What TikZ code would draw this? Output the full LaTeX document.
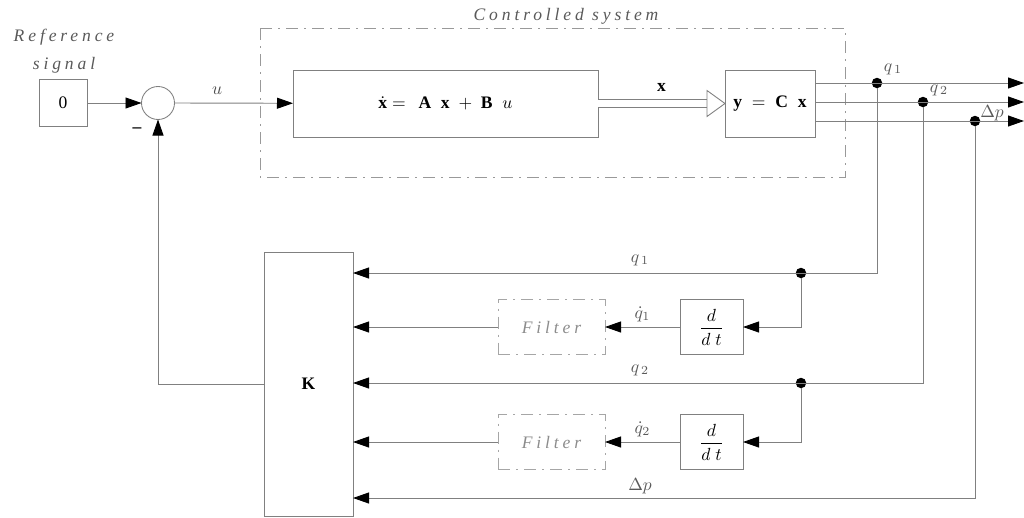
\documentclass[tikz,border=0pt]{standalone}
\usepackage{fontspec}
\setmainfont{Liberation Serif}
\newfontfamily\spacedfont[LetterSpace=22]{Liberation Serif}
\usetikzlibrary{arrows.meta,calc}

\begin{document}
\begin{tikzpicture}[x=0.2mm,y=-0.2mm,inner sep=0pt,outer sep=0pt,line width=0.5pt,color=black!50,
>={Triangle[length=3.2mm,width=2.2mm,color=black]},
sysblock/.style={draw,rectangle,inner sep=0pt,text=black},
filterblock/.style={draw=black!35,rectangle,minimum width=21.4mm,minimum height=11mm,
  dash pattern=on 2.4mm off 1.2mm on 0.4mm off 1.2mm,text=black!45,font=\spacedfont\itshape},
dot/.style={circle,fill=black,minimum size=2.1mm},
lbl/.style={text=black!65,font=\spacedfont\itshape}]
\useasboundingbox (0,0) rectangle (1024,517);

% controlled system
\draw[black!40,dash pattern=on 2.4mm off 1.2mm on 0.4mm off 1.2mm] (260,28) rectangle (845,177);
\node[lbl] (ctrl) at (566,16) {Controlled system};

\node[lbl] (reflbl1) at (64,37) {Reference};
\node[lbl] (reflbl2) at (64,65) {signal};

\draw (63,103) node[sysblock,minimum width=9.6mm,minimum height=9.4mm] (ref) {0};
\draw (158,103) node[draw,circle,minimum size=6.6mm] (sum1) {};
\draw (445.5,103.5) node[sysblock,minimum width=61mm,minimum height=13.4mm] (plant)
  {$\dot{\mathbf{x}} =\;\, \mathbf{A}\;\;\mathbf{x} \;+\; \mathbf{B}\;\;u$};
\draw (770,103.5) node[sysblock,minimum width=18mm,minimum height=13.4mm] (outp)
  {$\mathbf{y}\;=\;\mathbf{C}\;\;\mathbf{x}$};
\draw (308.5,384) node[sysblock,minimum width=17.8mm,minimum height=52.8mm] (K) {$\mathbf{K}$};
\draw (711.5,327) node[sysblock,minimum width=12.6mm,minimum height=11mm] (ddt1) {$\displaystyle\frac{d}{d\;t}$};
\draw (711.5,442) node[sysblock,minimum width=12.6mm,minimum height=11mm] (ddt2) {$\displaystyle\frac{d}{d\;t}$};
\draw (551.5,327) node[filterblock] (filt1) {Filter};
\draw (551.5,442) node[filterblock] (filt2) {Filter};

\draw[->] (ref) -- (sum1);
\draw[->] (sum1) -- node[pos=0.36,above=5pt,text=black!70] {$u$} (plant);
\node[text=black,font=\bfseries] (minus) at (137,130) {--};

% state vector
\draw[double,double distance=1.4mm,shorten >=3.6mm] (plant) -- node[above=7pt,text=black] {$\mathbf{x}$} (outp);
\draw[fill=white] ($(outp.west)+(-18,-13)$) -- (outp.west) -- ($(outp.west)+(-18,13)$) -- cycle;

% outputs
\node[dot] (q1tap) at (877,83) {};
\node[dot] (q2tap) at (923,102) {};
\node[dot] (dptap) at (975,121) {};
\coordinate (q1end) at (1024,83);
\coordinate (q2end) at (1024,102);
\coordinate (dpend) at (1024,121);
\draw[->] (outp.east |- q1tap) -- (q1end);
\draw[->] (outp.east |- q2tap) -- (q2end);
\draw[->] (outp.east |- dptap) -- (dpend);
\node[lbl] (q1top) at (893,69) {$q_{\,1}$};
\node[lbl] (q2top) at (939,90) {$q_{\,2}$};
\node[lbl] (dptop) at (992,113) {$\Delta p$};

% feedback measurements
\node[dot] (q1fb) at (801,273) {};
\node[dot] (q2fb) at (801,383) {};
\coordinate (dpin) at (353,498);
\draw[->] (q1tap) |- (K.east |- q1fb);
\draw[->] (q2tap) |- (K.east |- q2fb);
\draw[->] (dptap) |- (dpin);
\node[lbl] (q1lbl) at (640,260) {$q_{\,1}$};
\node[lbl] (q2lbl) at (640,370) {$q_{\,2}$};
\node[lbl] (dplbl) at (640,486) {$\Delta p$};

\draw[->] (q1fb) |- (ddt1.east);
\draw[->] (q2fb) |- (ddt2.east);
\draw[->] (ddt1) -- node[above=3pt,lbl] {$\dot q_{1}$} (filt1);
\draw[->] (ddt2) -- node[above=3pt,lbl] {$\dot q_{2}$} (filt2);
\draw[->] (filt1) -- (K.east |- filt1);
\draw[->] (filt2) -- (K.east |- filt2);

\draw[->] (K.west) -| (sum1.south);
\end{tikzpicture}
\end{document}
